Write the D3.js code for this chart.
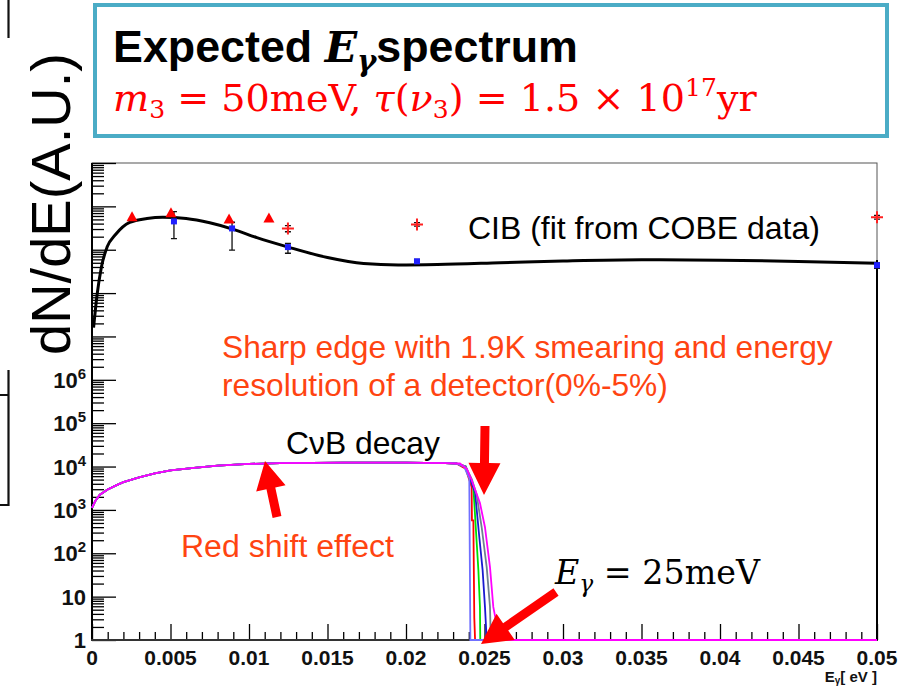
<!DOCTYPE html>
<html><head><meta charset="utf-8">
<script src="https://cdn.jsdelivr.net/npm/d3@7"></script>
<style>body{margin:0;background:#fff}svg{display:block}</style>
</head><body><svg id="c" width="910" height="689"></svg>
<script>
// ---------- axis ticks ----------
const xTicks = [0, 0.005, 0.01, 0.015, 0.02, 0.025, 0.03, 0.035, 0.04, 0.045, 0.05];
const xTickLabels = ["0", "0.005", "0.01", "0.015", "0.02", "0.025", "0.03", "0.035", "0.04", "0.045", "0.05"];
const yTicks = [1, 1e1, 1e2, 1e3, 1e4, 1e5, 1e6, 1e7, 1e8, 1e9, 1e10, 1e11];
const yTickBase = ["1", "10", "10", "10", "10", "10", "10"];
const yTickExp = ["", "", "2", "3", "4", "5", "6"];

// ---------- CIB fit (COBE) ----------
const cibE = [0.0001, 0.00032, 0.0006, 0.00096, 0.0015, 0.0024, 0.0035, 0.0045, 0.006, 0.0075, 0.009, 0.0105, 0.0125, 0.015, 0.0173, 0.0195, 0.022, 0.026, 0.03, 0.035, 0.04, 0.045, 0.05];
const cibV = [1.6e7, 8.9e7, 4.0e8, 1.15e9, 2.24e9, 4.27e9, 5.25e9, 5.62e9, 5.25e9, 4.17e9, 2.95e9, 1.9e9, 1.15e9, 6.6e8, 4.8e8, 4.47e8, 4.57e8, 5.0e8, 5.5e8, 5.9e8, 5.75e8, 5.37e8, 4.9e8];

// COBE data points
const triE = [0.00255, 0.00503, 0.00873, 0.01127];
const triV = [5.6e9, 6.9e9, 5.0e9, 5.25e9];
const blueE = [0.00522, 0.00892, 0.01248, 0.0207, 0.05];
const blueV = [4.5e9, 3.1e9, 1.15e9, 5.4e8, 4.4e8];
const blueLo = [1.8e9, 9.8e8, 8.3e8, 4.8e8, 3.7e8];
const blueHi = [7.6e9, 4.3e9, 1.4e9, 6.0e8, 5.0e8];
const crossE = [0.01248, 0.0207, 0.05];
const crossV = [3.1e9, 3.8e9, 5.6e9];
const crossLo = [2.6e9, 3.5e9, 5.1e9];
const crossHi = [3.6e9, 4.2e9, 6.2e9];

// ---------- CvB decay ----------
const cvbBaseE = [0, 0.0002, 0.0005, 0.001, 0.0015, 0.002, 0.003, 0.004, 0.005, 0.0065, 0.008, 0.01, 0.012, 0.016, 0.02, 0.0225, 0.0232];
const cvbBaseV = [1120, 1580, 2240, 2950, 3630, 4370, 5620, 6920, 8130, 9330, 10470, 11480, 12020, 12300, 12300, 12020, 11750];
const edgeNames = ["red", "green", "blue", "gray", "violet", "magenta"];
const edgeColors = ["#ff0000", "#00e000", "#1a1ad0", "#708090", "#7070ff", "#ff00ff"];
const edgeE = [
  [0.0238, 0.02418, 0.0242, 0.02429, 0.02435, 0.0244, 0.05],
  [0.0238, 0.02429, 0.02446, 0.02461, 0.02471, 0.02473, 0.05],
  [0.0238, 0.0242, 0.0244, 0.02467, 0.02488, 0.02503, 0.02514, 0.05],
  [0.0238, 0.0242, 0.0245, 0.02482, 0.02514, 0.02535, 0.0254, 0.05],
  [0.0237, 0.02403, 0.0241, 0.05],
  [0.02344, 0.02387, 0.02418, 0.02471, 0.02503, 0.02535, 0.02556, 0.02588, 0.026, 0.05]
];
const edgeV = [
  [8900, 3390, 575, 575, 3.2, 1, 1],
  [10000, 3390, 316, 41, 5.8, 1, 1],
  [10000, 3980, 2510, 234, 41, 5.8, 1, 1],
  [10000, 5010, 2240, 398, 48, 5.8, 1, 1],
  [10000, 5370, 1, 1],
  [11750, 8910, 4900, 1445, 398, 48, 5.8, 1.45, 1, 1]
];

const x = d3.scaleLinear().domain([0, 0.05]).range([92, 877]);
const y = d3.scaleLog().domain([1, 1e11]).range([640, 163]);

const svg = d3.select("#c");
const SANS = "'Liberation Sans', Arial, sans-serif";
const SERIF = "'DejaVu Serif', 'Liberation Serif', serif";

// place a text group so that its rendered width equals w (uniform scale)
function fitted(px, py, w) {
  const g = svg.append("g");
  const t = g.append("text").attr("x", 0).attr("y", 0);
  return {
    t,
    done() {
      const len = t.node().getComputedTextLength();
      const s = w / len;
      g.attr("transform", `translate(${px},${py}) scale(${s})`);
    }
  };
}

// stray slide lines on the left
svg.append("path").attr("d", "M8.5,0V38").attr("stroke", "#111").attr("stroke-width", 2.2).attr("fill", "none");
svg.append("path").attr("d", "M0,395H8.5V370M8.5,395V505H0").attr("stroke", "#111").attr("stroke-width", 2.2).attr("fill", "none");

// ---------- frame ----------
svg.append("rect").attr("x", 92).attr("y", 163).attr("width", 785).attr("height", 477)
  .attr("fill", "none").attr("stroke", "#555").attr("stroke-width", 1);

// y axis major / minor ticks
const yMinor = [];
for (let d = 0; d < 11; d++) for (let m = 2; m <= 9; m++) yMinor.push(m * Math.pow(10, d));
const gy = svg.append("g").attr("transform", "translate(92,0)");
gy.call(d3.axisLeft(y).tickValues(yTicks).tickSize(-24).tickFormat(""));
gy.call(g => g.select(".domain").remove());
const gym = svg.append("g").attr("transform", "translate(92,0)");
gym.call(d3.axisLeft(y).tickValues(yMinor).tickSize(-12).tickFormat(""));
gym.call(g => g.select(".domain").remove());

// x axis
const xMinor = d3.range(0, 51).map(i => i * 0.001).filter((v, i) => i % 5 !== 0);
const gx = svg.append("g").attr("transform", "translate(0,640)");
gx.call(d3.axisBottom(x).tickValues(xTicks).tickSize(-16).tickFormat(""));
gx.call(g => g.select(".domain").remove());
const gxm = svg.append("g").attr("transform", "translate(0,640)");
gxm.call(d3.axisBottom(x).tickValues(xMinor).tickSize(-8).tickFormat(""));
gxm.call(g => g.select(".domain").remove());
svg.selectAll(".tick line").attr("stroke", "#000").attr("stroke-width", 1.3);

svg.append("line").attr("x1", 92).attr("x2", 92).attr("y1", 163).attr("y2", 641).attr("stroke", "#000").attr("stroke-width", 2);
svg.append("line").attr("x1", 91).attr("x2", 878).attr("y1", 640).attr("y2", 640).attr("stroke", "#333").attr("stroke-width", 2);
svg.append("line").attr("x1", 877).attr("x2", 877).attr("y1", 260).attr("y2", 640).attr("stroke", "#000").attr("stroke-width", 2);

// tick labels
svg.append("g").selectAll("text").data(xTicks).join("text")
  .attr("x", d => x(d)).attr("y", 665).attr("text-anchor", "middle")
  .attr("font-family", SANS).attr("font-weight", "bold").attr("font-size", 21)
  .attr("fill", "#111").text((d, i) => xTickLabels[i]);

const ylab = svg.append("g").selectAll("text").data(yTicks.slice(0, 7)).join("text")
  .attr("x", 86).attr("y", d => y(d) + 8).attr("text-anchor", "end")
  .attr("font-family", SANS).attr("font-weight", "bold").attr("font-size", 22).attr("fill", "#111");
ylab.each(function (d, i) {
  const t = d3.select(this);
  t.append("tspan").text(yTickBase[i]);
  if (yTickExp[i]) t.append("tspan").attr("dy", -9).attr("font-size", 15).text(yTickExp[i]);
});

// x axis title
const xt = svg.append("text").attr("x", 877).attr("y", 682).attr("text-anchor", "end")
  .attr("font-family", SANS).attr("font-weight", "bold").attr("font-size", 15).attr("fill", "#111");
xt.append("tspan").text("E");
xt.append("tspan").attr("font-size", 10).attr("dy", 2).text("γ");
xt.append("tspan").attr("dy", -2).text("[ eV ]");

// ---------- curves ----------
const line = d3.line().x(d => x(d[0])).y(d => y(Math.max(1, d[1])));
const plot = svg.append("g");
edgeNames.forEach((n, k) => {
  const pts = cvbBaseE.map((e, i) => [e, cvbBaseV[i]]).concat(edgeE[k].map((e, i) => [e, edgeV[k][i]]));
  plot.append("path").attr("d", line(pts)).attr("fill", "none")
    .attr("stroke", edgeColors[k]).attr("stroke-width", 1.8);
});
const cibLine = d3.line().x(d => x(d[0])).y(d => y(d[1])).curve(d3.curveMonotoneX);
plot.append("path").attr("d", cibLine(cibE.map((e, i) => [e, cibV[i]])))
  .attr("fill", "none").attr("stroke", "#000").attr("stroke-width", 3);

// error bars
function errBars(E, lo, hi, color) {
  E.forEach((e, i) => {
    const px = x(e);
    plot.append("path").attr("d", `M${px},${y(lo[i])}V${y(hi[i])}M${px - 3},${y(lo[i])}h6M${px - 3},${y(hi[i])}h6`)
      .attr("stroke", color).attr("stroke-width", 1.3).attr("fill", "none");
  });
}
errBars(blueE, blueLo, blueHi, "#111");
errBars(crossE, crossLo, crossHi, "#111");
plot.append("g").selectAll("rect").data(blueE).join("rect")
  .attr("x", (d) => x(d) - 3).attr("y", (d, i) => y(blueV[i]) - 3).attr("width", 6).attr("height", 6).attr("fill", "#2020ff");
plot.append("g").selectAll("path").data(crossE).join("path")
  .attr("d", (d, i) => `M${x(d) - 6},${y(crossV[i])}h12M${x(d)},${y(crossV[i]) - 6}v12`)
  .attr("stroke", "#ff2020").attr("stroke-width", 2);
plot.append("g").selectAll("path").data(triE).join("path")
  .attr("d", (d, i) => { const px = x(d), py = y(triV[i]); return `M${px},${py - 6}L${px + 5.5},${py + 4}L${px - 5.5},${py + 4}Z`; })
  .attr("fill", "#ff0000");

// ---------- y axis title ----------
svg.append("text").attr("transform", "translate(70,355) rotate(-90)")
  .attr("font-family", SANS).attr("font-size", 56).attr("fill", "#000").text("dN/dE(A.U.)");

// ---------- title box ----------
svg.append("rect").attr("x", 95).attr("y", 5).attr("width", 792).attr("height", 131)
  .attr("fill", "#fff").attr("stroke", "#4bacc6").attr("stroke-width", 4);
const f1 = fitted(113, 62, 465);
const t1 = f1.t.attr("font-family", SANS).attr("font-weight", "bold").attr("font-size", 40).attr("fill", "#000");
t1.append("tspan").text("Expected ");
t1.append("tspan").attr("font-family", SERIF).attr("font-style", "italic").attr("font-weight", "bold").attr("font-size", 38).text("E");
t1.append("tspan").attr("font-family", SERIF).attr("font-style", "italic").attr("font-weight", "bold").attr("font-size", 26).attr("dy", 8).text("γ");
t1.append("tspan").attr("dy", -8).text("spectrum");
f1.done();
const f2 = fitted(113, 111, 644);
const t2 = f2.t.attr("font-family", SERIF).attr("font-size", 32).attr("fill", "#ff0000");
t2.append("tspan").attr("font-style", "italic").text("m");
t2.append("tspan").attr("font-size", 21).attr("dy", 6).text("3");
t2.append("tspan").attr("dy", -6).text(" = 50meV, ");
t2.append("tspan").attr("font-style", "italic").text("τ");
t2.append("tspan").text("(");
t2.append("tspan").attr("font-style", "italic").text("ν");
t2.append("tspan").attr("font-size", 21).attr("dy", 6).text("3");
t2.append("tspan").attr("dy", -6).text(") = 1.5 × 10");
t2.append("tspan").attr("font-size", 21).attr("dy", -13).text("17");
t2.append("tspan").attr("dy", 13).text("yr");
f2.done();

// ---------- annotations ----------
const ORANGE = "#ff4411";
function label(txt, x0, y0, w, color) {
  const f = fitted(x0, y0, w);
  f.t.attr("font-family", SANS).attr("font-size", 32).attr("fill", color).text(txt);
  f.done();
}
label("CIB (fit from COBE data)", 468, 239, 352, "#000");
label("Sharp edge with 1.9K smearing and energy", 222, 358, 611, ORANGE);
label("resolution of a detector(0%-5%)", 222, 396, 446, ORANGE);
label("CνB decay", 286, 454, 154, "#000");
label("Red shift effect", 181, 557, 213, ORANGE);
const f3 = fitted(555, 584, 205);
const eg = f3.t.attr("font-family", SERIF).attr("font-size", 30).attr("fill", "#000");
eg.append("tspan").attr("font-style", "italic").text("E");
eg.append("tspan").attr("font-style", "italic").attr("font-size", 21).attr("dy", 7).text("γ");
eg.append("tspan").attr("dy", -7).text(" = 25meV");
f3.done();

// arrows
function arrow(x1, y1, x2, y2, shaft, headW, headL) {
  const dx = x2 - x1, dy = y2 - y1, L = Math.hypot(dx, dy);
  const ux = dx / L, uy = dy / L, nx = -uy, ny = ux;
  const bx = x2 - ux * headL, by = y2 - uy * headL;
  const p = [
    [x1 + nx * shaft / 2, y1 + ny * shaft / 2], [bx + nx * shaft / 2, by + ny * shaft / 2],
    [bx + nx * headW / 2, by + ny * headW / 2], [x2, y2],
    [bx - nx * headW / 2, by - ny * headW / 2], [bx - nx * shaft / 2, by - ny * shaft / 2],
    [x1 - nx * shaft / 2, y1 - ny * shaft / 2]
  ];
  svg.append("path").attr("d", "M" + p.map(q => q.join(",")).join("L") + "Z").attr("fill", "#ff0000");
}
arrow(277, 517, 265, 461, 9, 30, 28);
arrow(485, 426, 484, 495, 9, 32, 32);
arrow(556, 592, 481, 644, 9, 32, 30);
</script>
</body></html>
